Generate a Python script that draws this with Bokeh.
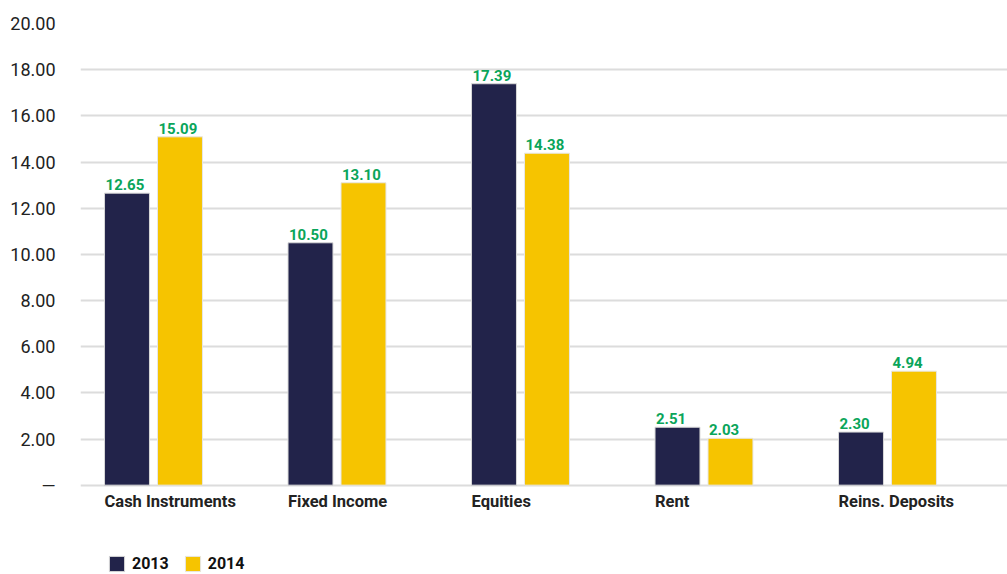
from bokeh.plotting import figure
from bokeh.models import (ColumnDataSource, Range1d, FixedTicker, Legend, LegendItem)
from bokeh.transform import dodge
from bokeh.core.properties import value
from bokeh.embed import file_html
from bokeh.resources import INLINE

categories = ["Cash Instruments", "Fixed Income", "Equities", "Rent", "Reins. Deposits"]
values_2013 = [12.65, 10.50, 17.39, 2.51, 2.30]
values_2014 = [15.09, 13.10, 14.38, 2.03, 4.94]
y_ticks = [0, 2, 4, 6, 8, 10, 12, 14, 16, 18, 20]

NAVY = "#22234a"
YELLOW = "#f6c400"
GREEN = "#0aa55a"
GRID = "#dcdcdc"
FONT = "Roboto"

x = list(range(len(categories)))
src = ColumnDataSource(dict(
    x=x, cat=categories, zero=[0] * len(categories),
    v13=values_2013, v14=values_2014,
    t13=[f"{v:.2f}" for v in values_2013],
    t14=[f"{v:.2f}" for v in values_2014],
))

p = figure(width=1007, height=574, output_backend="svg", toolbar_location=None,
           x_range=Range1d(-0.1308, 4.921), y_range=Range1d(-3.87, 20),
           min_border_left=80, min_border_right=0, min_border_top=23, min_border_bottom=0)
p.outline_line_color = None
p.background_fill_color = "white"
p.border_fill_color = "white"

bw = 0.245
off13 = 0.1226
off14 = 0.4114
r13 = p.vbar(x=dodge("x", off13), top="v13", bottom=0, width=bw, source=src,
             fill_color=NAVY, line_color="#d8d8d8", line_width=1)
r14 = p.vbar(x=dodge("x", off14), top="v14", bottom=0, width=bw, source=src,
             fill_color=YELLOW, line_color="#e6e6e6", line_width=1)

# value labels (left-aligned at each bar's left edge)
p.text(x=dodge("x", off13 - bw / 2), y="v13", text="t13", source=src, text_align="left",
       text_baseline="bottom", x_offset=1, y_offset=-3, text_color=GREEN,
       text_font=value(FONT), text_font_style="bold", text_font_size="15px")
p.text(x=dodge("x", off14 - bw / 2), y="v14", text="t14", source=src, text_align="left",
       text_baseline="bottom", x_offset=1, y_offset=-3, text_color=GREEN,
       text_font=value(FONT), text_font_style="bold", text_font_size="15px")

# category labels, left-aligned under the first bar
p.text(x="x", y="zero", text="cat", source=src, text_align="left", text_baseline="top",
       y_offset=7, text_color="#222222", text_font=value(FONT), text_font_style="bold",
       text_font_size="16.5px")

# grid (the 0 line doubles as the baseline)
p.xgrid.grid_line_color = None
p.ygrid.ticker = FixedTicker(ticks=y_ticks)
p.ygrid.grid_line_color = GRID
p.ygrid.grid_line_width = 2

# y axis
p.yaxis.ticker = FixedTicker(ticks=y_ticks)
p.yaxis.major_label_overrides = {t: (f"{t:.2f}" if t else "\u2014") for t in y_ticks}
p.yaxis.axis_line_color = None
p.yaxis.major_tick_line_color = None
p.yaxis.minor_tick_line_color = None
p.yaxis.major_tick_out = 0
p.yaxis.major_label_standoff = 25
p.yaxis.major_label_text_font = FONT
p.yaxis.major_label_text_font_size = "18px"
p.yaxis.major_label_text_color = "#222222"

p.xaxis.visible = False

legend = Legend(items=[LegendItem(label="2013", renderers=[r13]),
                       LegendItem(label="2014", renderers=[r14])],
                orientation="horizontal", location=(27, 1),
                glyph_width=19, glyph_height=19, label_standoff=6, spacing=14,
                padding=0, margin=0, border_line_color=None, background_fill_alpha=0,
                label_text_font=FONT, label_text_font_style="bold",
                label_text_font_size="16px", label_text_color="#111111")
p.add_layout(legend, "center")

open("out.html", "w").write(file_html(p, INLINE))
